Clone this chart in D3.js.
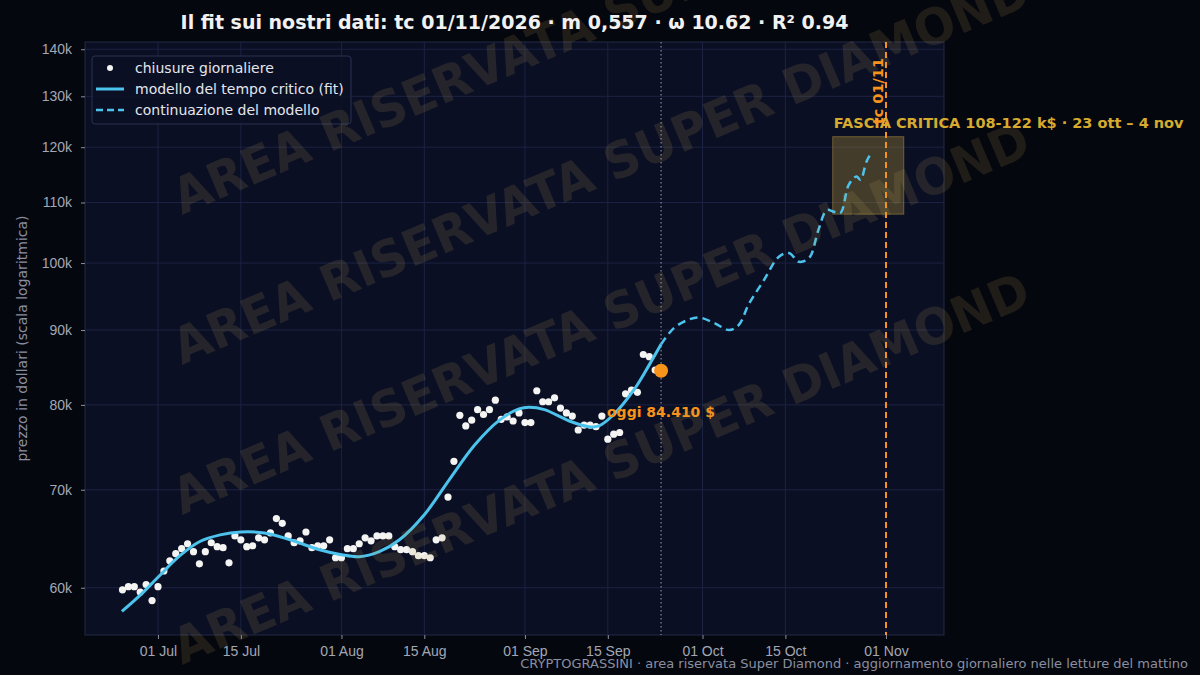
<!DOCTYPE html>
<html>
<head>
<meta charset="utf-8">
<script src="https://cdn.jsdelivr.net/npm/d3@7"></script>
<style>
  body { margin: 0; background: #05070f; }
  svg { display: block; font-family: "DejaVu Sans", sans-serif; }
</style>
</head>
<body>
<svg id="chart" width="1200" height="675"></svg>
<script>
// closes, one per day starting 25 Jun
var closeStart = "2025-06-25";
var closes = [
  59.8, 60.1, 60.1, 59.6, 60.3, 58.8, 60.1, 61.6, 62.6, 63.3, 63.8, 64.3, 63.5, 62.3, 63.5, 64.4,
  64.0, 63.9, 62.4, 65.1, 64.7, 64.0, 64.1, 64.9, 64.7, 65.4, 66.9, 66.4, 65.1, 64.4, 64.6, 65.5,
  63.9, 64.1, 64.1, 64.7, 62.9, 62.9, 63.8, 63.8, 64.3, 64.9, 64.6, 65.1, 65.1, 65.1, 64.0, 63.7,
  63.7, 63.5, 63.1, 63.1, 62.9, 64.7, 64.9, 69.2, 73.2, 78.7, 77.4, 78.1, 79.4, 78.8, 79.4, 80.6,
  78.2, 78.5, 78.0, 79.0, 77.8, 77.8, 81.8, 80.4, 80.4, 80.9, 79.6, 79.0, 78.6, 76.9, 77.5, 77.5,
  77.3, 78.6, 75.8, 76.4, 76.6, 81.4, 81.9, 81.6, 86.6, 86.3, 84.5
];
var today = { date: "2025-09-24", value: 84.41 };

// model fit, days from 01 Jul
var fitDays = [-6.1, -3, 0, 3.7, 7, 10.5, 14, 18, 22.3, 27.3, 31, 34, 37.4, 40.8, 45, 49.2, 53.5,
  57.7, 61, 62.7, 65.3, 69.5, 72.8, 74.5, 77, 80.4, 83, 85];
var fitValues = [57.8, 59.3, 61.0, 63.1, 64.5, 65.2, 65.5, 65.4, 64.7, 63.7, 63.2, 63.0, 63.5, 64.7,
  67.3, 71.1, 75.1, 78.1, 79.5, 79.7, 79.4, 78.0, 77.3, 77.4, 78.8, 81.9, 85.2, 88.0];
var contDays = [85, 87.2, 89.7, 91.4, 94, 96.5, 98.1, 99.8, 102.4, 104.9, 106.6, 108.3, 110, 111.6,
  113, 114.2, 115.3, 116.7, 118, 118.7, 119.7, 120.6];
var contValues = [88.0, 90.3, 91.5, 91.8, 91.0, 90.0, 90.7, 93.7, 97.4, 101.0, 101.6, 100.2, 100.8,
  105.4, 108.7, 108.4, 108.2, 113.1, 114.6, 114.0, 117.3, 119.1];

var yTicks = [60, 70, 80, 90, 100, 110, 120, 130, 140];
var xTicks = ["2025-07-01", "2025-07-15", "2025-08-01", "2025-08-15", "2025-09-01",
  "2025-09-15", "2025-10-01", "2025-10-15", "2025-11-01"];
var band = { from: "2025-10-23", to: "2025-11-04", low: 108, high: 122 };
var tcDate = "2025-11-01";

var W = 1200, H = 675,
    m = { left: 85, right: 944, top: 42, bottom: 635 };
var parse = d3.utcParse("%Y-%m-%d"),
    jul1 = parse("2025-07-01"),
    dayMs = 864e5;

var x = d3.scaleUtc()
    .domain([new Date(+parse("2025-06-18") + 0.67 * dayMs), new Date(+parse("2025-11-10") + 0.8 * dayMs)])
    .range([m.left, m.right]);
var y = d3.scaleLog().domain([55.7, 141.6]).range([m.bottom, m.top]);
var fromDay = function (d) { return new Date(+jul1 + d * dayMs); };

var svg = d3.select("#chart");
svg.append("rect").attr("width", W).attr("height", H).attr("fill", "#05070f");
svg.append("rect").attr("x", m.left).attr("y", m.top)
  .attr("width", m.right - m.left).attr("height", m.bottom - m.top)
  .attr("fill", "#0b0f24").attr("stroke", "#232a45");

// grid
var g = svg.append("g");
g.selectAll(".gy").data(yTicks).enter().append("line")
  .attr("x1", m.left).attr("x2", m.right)
  .attr("y1", function (d) { return y(d); }).attr("y2", function (d) { return y(d); })
  .attr("stroke", "#1c2342");
g.selectAll(".gx").data(xTicks).enter().append("line")
  .attr("y1", m.top).attr("y2", m.bottom)
  .attr("x1", function (d) { return x(parse(d)); }).attr("x2", function (d) { return x(parse(d)); })
  .attr("stroke", "#1c2342");

// axes
var fmtIt = function (d) {
  var mesi = ["Jan", "Feb", "Mar", "Apr", "May", "Jun", "Jul", "Aug", "Sep", "Oct", "Nov", "Dec"];
  return d3.utcFormat("%d")(d) + " " + mesi[d.getUTCMonth()];
};
var ax = svg.append("g").attr("transform", "translate(0," + m.bottom + ")")
  .call(d3.axisBottom(x).tickValues(xTicks.map(parse)).tickFormat(fmtIt).tickSize(4).tickPadding(7));
var ay = svg.append("g").attr("transform", "translate(" + m.left + ",0)")
  .call(d3.axisLeft(y).tickValues(yTicks).tickFormat(function (d) { return d + "k"; }).tickSize(4).tickPadding(9));
[ax, ay].forEach(function (a) {
  a.select(".domain").remove();
  a.selectAll("line").attr("stroke", "#8a8fa0");
  a.selectAll("text").attr("fill", "#a3a7b4").attr("font-size", 14);
});

svg.append("text").attr("transform", "translate(27," + ((m.top + m.bottom) / 2) + ") rotate(-90)")
  .attr("text-anchor", "middle").attr("fill", "#8a8fa0").attr("font-size", 14)
  .text("prezzo in dollari (scala logaritmica)");

// band
svg.append("rect")
  .attr("x", x(parse(band.from))).attr("width", x(parse(band.to)) - x(parse(band.from)))
  .attr("y", y(band.high)).attr("height", y(band.low) - y(band.high))
  .attr("fill", "rgba(200,165,60,0.3)").attr("stroke", "rgba(200,165,60,0.45)");

// vertical lines
svg.append("line").attr("x1", x(parse(today.date))).attr("x2", x(parse(today.date)))
  .attr("y1", m.top).attr("y2", m.bottom)
  .attr("stroke", "#9aa0b0").attr("stroke-width", 1).attr("stroke-dasharray", "1.5,2.5");
svg.append("line").attr("x1", x(parse(tcDate))).attr("x2", x(parse(tcDate)))
  .attr("y1", m.top).attr("y2", m.bottom)
  .attr("stroke", "#f7931a").attr("stroke-width", 2).attr("stroke-dasharray", "6,4");

// closes
var start = parse(closeStart);
svg.append("g").selectAll("circle").data(closes).enter().append("circle")
  .attr("cx", function (d, i) { return x(new Date(+start + i * dayMs)); })
  .attr("cy", function (d) { return y(d); })
  .attr("r", 3.6).attr("fill", "#f4f4f2");

// model
var line = d3.line().curve(d3.curveCatmullRom)
  .x(function (d) { return x(fromDay(d[0])); }).y(function (d) { return y(d[1]); });
svg.append("path").datum(d3.zip(fitDays, fitValues)).attr("d", line)
  .attr("fill", "none").attr("stroke", "#4cc3ec").attr("stroke-width", 3);
svg.append("path").datum(d3.zip(contDays, contValues)).attr("d", line)
  .attr("fill", "none").attr("stroke", "#4cc3ec").attr("stroke-width", 2.5)
  .attr("stroke-dasharray", "8,5");

svg.append("circle").attr("cx", x(parse(today.date))).attr("cy", y(today.value))
  .attr("r", 7).attr("fill", "#f7931a");

// labels
svg.append("text").attr("x", 607).attr("y", y(today.value) + 46)
  .attr("fill", "#f7931a").attr("font-size", 14).attr("font-weight", "bold").text("oggi 84.410 $");
svg.append("text").attr("x", x(parse(band.from)) + 1).attr("y", y(band.high) - 9)
  .attr("fill", "#d6ab2e").attr("font-size", 14.5).attr("font-weight", "bold")
  .text("FASCIA CRITICA 108-122 k$ · 23 ott – 4 nov");
svg.append("text").attr("transform", "translate(" + (x(parse(tcDate)) - 3) + ",58) rotate(-90)")
  .attr("text-anchor", "end").attr("fill", "#f7931a").attr("font-size", 14.5).attr("font-weight", "bold")
  .text("tc 01/11");

// legend
var lg = svg.append("g").attr("transform", "translate(92,56)");
lg.append("rect").attr("width", 259).attr("height", 68).attr("rx", 3)
  .attr("fill", "#0b0f24").attr("fill-opacity", 0.85).attr("stroke", "#2a3150");
var items = ["chiusure giornaliere", "modello del tempo critico (fit)", "continuazione del modello"];
items.forEach(function (t, i) {
  var yy = 12 + i * 21;
  if (i === 0) lg.append("circle").attr("cx", 18).attr("cy", yy).attr("r", 3).attr("fill", "#f4f4f2");
  else lg.append("line").attr("x1", 4).attr("x2", 32).attr("y1", yy).attr("y2", yy)
    .attr("stroke", "#4cc3ec").attr("stroke-width", i === 1 ? 3 : 2.5)
    .attr("stroke-dasharray", i === 2 ? "7,4" : null);
  lg.append("text").attr("x", 43).attr("y", yy + 5).attr("fill", "#e4e6ec").attr("font-size", 14).text(t);
});

// watermark
var wm = svg.append("g").attr("pointer-events", "none");
[215, 365, 515, 665].forEach(function (yy) {
  wm.append("text").attr("transform", "translate(182," + yy + ") rotate(-23)")
    .attr("fill", "rgba(190,160,90,0.15)").attr("font-size", 50).attr("font-weight", "bold")
    .attr("textLength", 925).attr("lengthAdjust", "spacingAndGlyphs")
    .text("AREA RISERVATA SUPER DIAMOND");
});

// title & footer
svg.append("text").attr("x", (m.left + m.right) / 2).attr("y", 29).attr("text-anchor", "middle")
  .attr("fill", "#f1f1f1").attr("font-size", 19).attr("font-weight", "bold")
  .text("Il fit sui nostri dati: tc 01/11/2026 · m 0,557 · ω 10.62 · R² 0.94");
svg.append("text").attr("x", 1188).attr("y", 668).attr("text-anchor", "end")
  .attr("fill", "#8a8fa0").attr("font-size", 13)
  .text("CRYPTOGRASSINI · area riservata Super Diamond · aggiornamento giornaliero nelle letture del mattino");
</script>
</body>
</html>
